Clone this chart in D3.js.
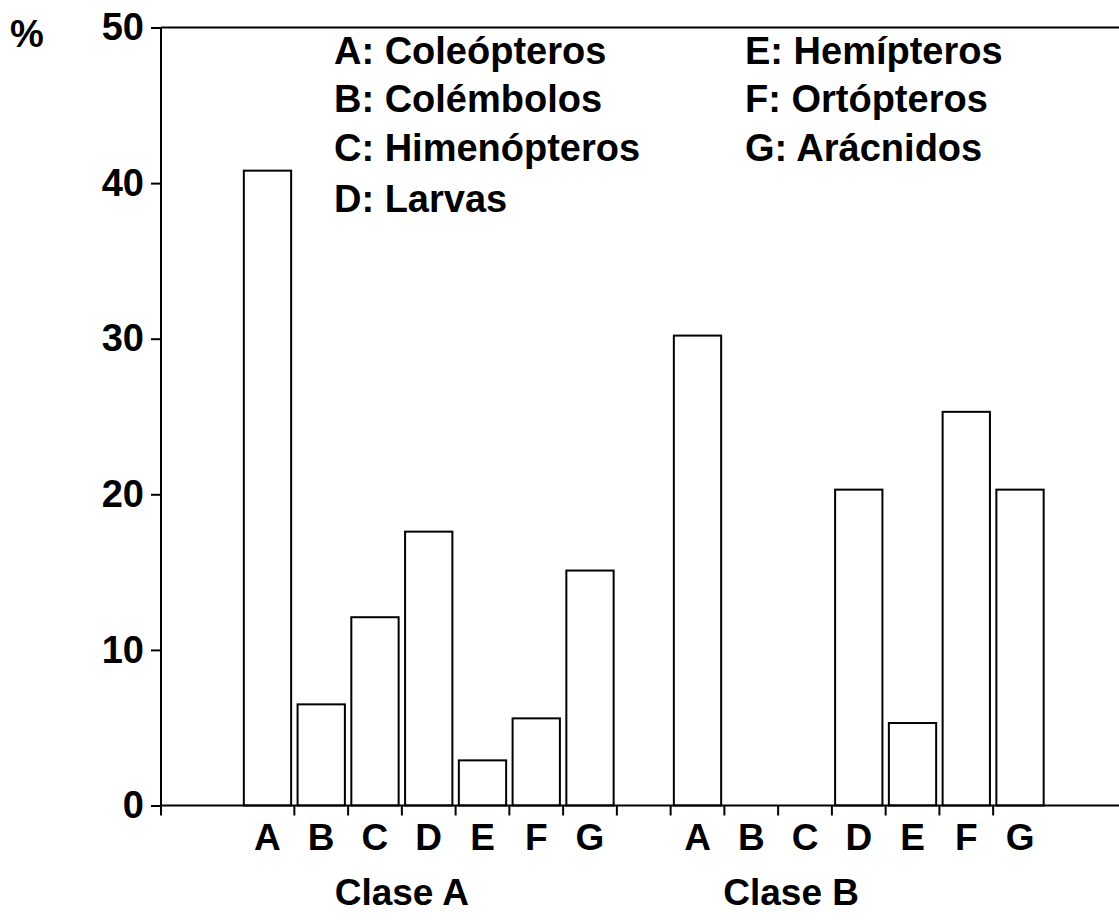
<!DOCTYPE html>
<html>
<head>
<meta charset="utf-8">
<script src="https://cdn.jsdelivr.net/npm/d3@7"></script>
<style>
  html, body { margin: 0; padding: 0; background: #fff; }
  svg { display: block; }
  text { font-family: "Liberation Sans", Arial, Helvetica, sans-serif; font-weight: bold; fill: #000; }
</style>
</head>
<body>
<svg id="chart" width="1119" height="921"></svg>
<script>
// ---- data ----
const categories = ["A", "B", "C", "D", "E", "F", "G"];
const groups = ["Clase A", "Clase B"];
const claseA = [40.8, 6.5, 12.1, 17.6, 2.9, 5.6, 15.1];
const claseB = [30.2, 0, 0, 20.3, 5.3, 25.3, 20.3];
const yTicks = [0, 10, 20, 30, 40, 50];
const legendLeft = ["A: Coleópteros", "B: Colémbolos", "C: Himenópteros", "D: Larvas"];
const legendRight = ["E: Hemípteros", "F: Ortópteros", "G: Arácnidos"];
const yUnit = "%";

// ---- layout ----
const svg = d3.select("#chart");
const axisX = 161, yTop = 27.5, yBottom = 805.5, rightEdge = 1119;

const slots = [
  ...categories.map(c => "A|" + c),
  "gap",
  ...categories.map(c => "B|" + c)
];
const x = d3.scaleBand().domain(slots).range([240.6, 1046.9]).padding(0);
const y = d3.scaleLinear().domain([0, 50]).range([yBottom, yTop]);

const bars = [
  ...categories.map((c, i) => ({ key: "A|" + c, v: claseA[i] })),
  ...categories.map((c, i) => ({ key: "B|" + c, v: claseB[i] }))
];

// bars
const bw = x.bandwidth() * 0.88;
svg.append("g").selectAll("rect")
  .data(bars.filter(d => d.v > 0))
  .join("rect")
  .attr("x", d => x(d.key) + (x.bandwidth() - bw) / 2)
  .attr("y", d => y(d.v))
  .attr("width", bw)
  .attr("height", d => y(0) - y(d.v))
  .attr("fill", "#fff")
  .attr("stroke", "#000")
  .attr("stroke-width", 2);

// top frame line
svg.append("line")
  .attr("x1", axisX).attr("x2", rightEdge)
  .attr("y1", y(50)).attr("y2", y(50))
  .attr("stroke", "#000").attr("stroke-width", 2);

// baseline
svg.append("line")
  .attr("x1", axisX).attr("x2", rightEdge)
  .attr("y1", y(0)).attr("y2", y(0))
  .attr("stroke", "#000").attr("stroke-width", 2);

// y axis
const yAxis = d3.axisLeft(y).tickValues(yTicks).tickSize(10).tickPadding(7).tickFormat(d3.format("d"));
const gy = svg.append("g").attr("transform", `translate(${axisX},0)`).call(yAxis);
gy.select(".domain").remove();
gy.selectAll(".tick line").attr("stroke", "#000").attr("stroke-width", 2);
gy.selectAll(".tick text")
  .attr("font-size", 38)
  .attr("font-family", "Liberation Sans, Arial, sans-serif")
  .attr("font-weight", "bold")
  .attr("fill", "#000");
svg.append("line")
  .attr("x1", axisX).attr("x2", axisX)
  .attr("y1", y(50)).attr("y2", y(0) + 10)
  .attr("stroke", "#000").attr("stroke-width", 2);

// x ticks at slot boundaries
svg.append("g").selectAll("line")
  .data(slots.slice(1))
  .join("line")
  .attr("x1", d => x(d)).attr("x2", d => x(d))
  .attr("y1", y(0)).attr("y2", y(0) + 10)
  .attr("stroke", "#000").attr("stroke-width", 2);

// x category labels
svg.append("g").selectAll("text")
  .data(bars)
  .join("text")
  .attr("x", d => x(d.key) + x.bandwidth() / 2)
  .attr("y", 850)
  .attr("text-anchor", "middle")
  .attr("font-size", 37)
  .text(d => d.key.split("|")[1]);

// group titles
const titleX = [x("A|D"), x("B|C") + 13];
svg.append("g").selectAll("text")
  .data(groups)
  .join("text")
  .attr("x", (d, i) => titleX[i])
  .attr("y", 905)
  .attr("text-anchor", "middle")
  .attr("font-size", 37)
  .text(d => d);

// unit label
svg.append("text")
  .attr("x", 10).attr("y", 47)
  .attr("font-size", 38)
  .text(yUnit);

// legend
const rowBase = [64, 112, 161, 212];
const leg = svg.append("g");
leg.selectAll("text.l")
  .data(legendLeft)
  .join("text")
  .attr("class", "l")
  .attr("x", 334)
  .attr("y", (d, i) => rowBase[i])
  .attr("font-size", 38)
  .text(d => d);
leg.selectAll("text.r")
  .data(legendRight)
  .join("text")
  .attr("class", "r")
  .attr("x", 745)
  .attr("y", (d, i) => rowBase[i])
  .attr("font-size", 38)
  .text(d => d);
</script>
</body>
</html>
